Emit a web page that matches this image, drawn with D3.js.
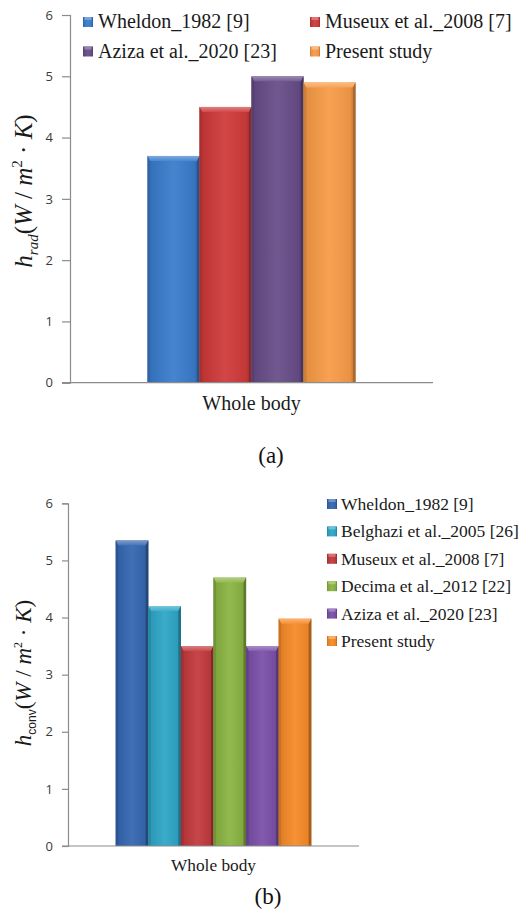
<!DOCTYPE html>
<html>
<head>
<meta charset="utf-8">
<script src="https://cdn.jsdelivr.net/npm/d3@7"></script>
<style>
  html, body { margin: 0; padding: 0; background: #ffffff; }
  svg { display: block; }
</style>
</head>
<body>
<svg id="fig" width="527" height="913"></svg>
<script>
// ---- data ----
const category = ["Whole body"];
const yTicks = [0, 1, 2, 3, 4, 5, 6];

// panel (a): radiative heat transfer coefficient
const seriesRad = ["Wheldon_1982 [9]", "Museux et al._2008 [7]", "Aziza et al._2020 [23]", "Present study"];
const valuesRad = [3.7, 4.5, 5.0, 4.9];
const colorsRad = ["#3a7ccc", "#cf3a3b", "#684e89", "#f89b47"];

// panel (b): convective heat transfer coefficient
const seriesConv = ["Wheldon_1982 [9]", "Belghazi et al._2005 [26]", "Museux et al._2008 [7]",
                    "Decima et al._2012 [22]", "Aziza et al._2020 [23]", "Present study"];
const valuesConv = [5.35, 4.2, 3.5, 4.7, 3.5, 3.98];
const colorsConv = ["#3567b1", "#2fa6c7", "#c23a3d", "#8ab443", "#7a50a9", "#f68a28"];

const W = 527;
const svg = d3.select("#fig");
const defs = svg.append("defs");
let gradId = 0;

function shade(c, k) {
  return k >= 0 ? d3.interpolateRgb(c, "#ffffff")(k) : d3.interpolateRgb(c, "#000000")(-k);
}

function hGradient(color) {
  const id = "g" + (gradId++);
  const g = defs.append("linearGradient").attr("id", id).attr("x1", 0).attr("x2", 1).attr("y1", 0).attr("y2", 0);
  [[0, shade(color, -0.25)], [0.08, shade(color, -0.08)], [0.5, shade(color, 0.06)],
   [0.9, shade(color, -0.06)], [1, shade(color, -0.3)]]
    .forEach(([o, c]) => g.append("stop").attr("offset", o).attr("stop-color", c));
  return id;
}

function vGradient(color) {
  const id = "g" + (gradId++);
  const g = defs.append("linearGradient").attr("id", id).attr("x1", 0).attr("x2", 0).attr("y1", 0).attr("y2", 1);
  [[0, shade(color, 0.35)], [1, shade(color, 0.08)]]
    .forEach(([o, c]) => g.append("stop").attr("offset", o).attr("stop-color", c));
  return id;
}

function drawPanel(cfg) {
  const g = svg.append("g");
  const y = d3.scaleLinear().domain([0, 6]).range([cfg.yBase, cfg.yTop]);
  const x0 = d3.scaleBand().domain(category).range([cfg.xLeft, cfg.xRight]).paddingInner(0).paddingOuter(cfg.outerPad);
  const x1 = d3.scaleBand().domain(cfg.series).range([0, x0.bandwidth()]).padding(0);

  // bars with bevelled top and shaded sides
  const bars = g.selectAll("g.bar")
    .data(cfg.series.map((s, i) => ({ s, v: cfg.values[i], c: cfg.colors[i] })))
    .join("g").attr("class", "bar");

  bars.each(function (d) {
    const b = d3.select(this);
    const bx = x0(category[0]) + x1(d.s);
    const bw = x1.bandwidth();
    const top = y(d.v), base = y(0);
    const bev = cfg.bevel, side = 2.5;
    b.append("rect").attr("x", bx).attr("y", top).attr("width", bw).attr("height", base - top)
      .attr("fill", `url(#${hGradient(d.c)})`);
    // top bevel
    b.append("path")
      .attr("d", `M${bx},${top}L${bx + bw},${top}L${bx + bw - side},${top + bev}L${bx + side},${top + bev}Z`)
      .attr("fill", `url(#${vGradient(d.c)})`);
    // side bevels
    b.append("path")
      .attr("d", `M${bx},${top}L${bx + side},${top + bev}L${bx + side},${base}L${bx},${base}Z`)
      .attr("fill", shade(d.c, -0.18));
    b.append("path")
      .attr("d", `M${bx + bw},${top}L${bx + bw - side},${top + bev}L${bx + bw - side},${base}L${bx + bw},${base}Z`)
      .attr("fill", shade(d.c, -0.32));
  });

  // y axis
  const yAxis = d3.axisLeft(y).tickValues(yTicks).tickSize(cfg.tickLen).tickPadding(9).tickFormat(d3.format("d"));
  const ya = g.append("g").attr("transform", `translate(${cfg.xLeft},0)`).call(yAxis);
  ya.select(".domain").attr("stroke", "#8c8c8c").attr("stroke-width", 1.2);
  ya.selectAll(".tick line").attr("stroke", "#8c8c8c").attr("stroke-width", 1.2);
  ya.selectAll(".tick text").attr("font-family", "'Open Sans', sans-serif").attr("font-size", cfg.tickFont)
    .attr("fill", "#3a3a3a");

  // x baseline
  g.append("line").attr("x1", cfg.xLeft - cfg.tickLen).attr("x2", cfg.xRight)
    .attr("y1", y(0)).attr("y2", y(0)).attr("stroke", "#8c8c8c").attr("stroke-width", 1.2);

  // category label
  g.append("text").attr("x", x0(category[0]) + x0.bandwidth() / 2).attr("y", cfg.catY)
    .attr("text-anchor", "middle").attr("font-family", "'Liberation Serif', serif")
    .attr("font-size", cfg.catFont).attr("fill", "#1a1a1a").text(category[0]);

  // y axis title
  const t = g.append("text").attr("transform", `translate(${cfg.titleX},${cfg.titleY}) rotate(-90)`)
    .attr("text-anchor", "middle").attr("font-family", "'Liberation Serif', serif")
    .attr("font-size", cfg.titleFont).attr("fill", "#1a1a1a");
  t.append("tspan").attr("font-style", "italic").text("h");
  t.append("tspan").attr("font-style", cfg.subItalic ? "italic" : "normal")
    .attr("font-family", cfg.subFamily).attr("font-size", cfg.subFont).attr("dy", cfg.subDy).text(cfg.sub);
  t.append("tspan").attr("dy", -cfg.subDy).text("(");
  t.append("tspan").attr("font-style", "italic").text("W");
  t.append("tspan").text(" / ");
  t.append("tspan").attr("font-style", "italic").text("m");
  t.append("tspan").attr("font-size", cfg.subFont).attr("dy", -cfg.supDy).text("2");
  t.append("tspan").attr("dy", cfg.supDy).text(" \u00B7 ");
  t.append("tspan").attr("font-style", "italic").text("K");
  t.append("tspan").text(")");

  // legend
  const lg = g.append("g");
  cfg.series.forEach((s, i) => {
    const col = i % cfg.legCols, row = Math.floor(i / cfg.legCols);
    const lx = cfg.legX[col], ly = cfg.legY0 + row * cfg.legDy;
    lg.append("rect").attr("x", lx).attr("y", ly - cfg.legSym - 1).attr("width", cfg.legSym).attr("height", cfg.legSym)
      .attr("fill", `url(#${hGradient(cfg.colors[i])})`);
    lg.append("rect").attr("x", lx + 1.5).attr("y", ly - cfg.legSym - 1).attr("width", cfg.legSym - 3).attr("height", 3)
      .attr("fill", shade(cfg.colors[i], 0.3));
    const tx = lx + cfg.legSym + cfg.legGap;
    const txt = lg.append("text").attr("x", tx).attr("y", ly)
      .attr("font-family", "'Liberation Serif', serif").attr("font-size", cfg.legFont)
      .attr("fill", "#1a1a1a").text(s);
    // squeeze entries that would run past the right edge
    const room = W - 5 - tx;
    if (txt.node().getComputedTextLength() > room) {
      txt.attr("textLength", room).attr("lengthAdjust", "spacingAndGlyphs");
    }
  });

  // panel tag
  g.append("text").attr("x", cfg.tagX).attr("y", cfg.tagY).attr("text-anchor", "middle")
    .attr("font-family", "'Liberation Serif', serif").attr("font-size", 23).attr("fill", "#111")
    .text(cfg.tag);
}

drawPanel({
  series: seriesRad, values: valuesRad, colors: colorsRad,
  xLeft: 70, xRight: 433, yTop: 15, yBase: 382.7, outerPad: 0.3726,
  bevel: 5, tickLen: 8, tickFont: 13,
  catY: 410, catFont: 20,
  titleX: 32, titleY: 191, titleFont: 25, sub: "rad", subFont: 15, subDy: 6, supDy: 10,
  subItalic: true, subFamily: "'Liberation Serif', serif",
  legCols: 2, legX: [83, 310], legY0: 28, legDy: 29.5, legSym: 10, legGap: 5, legFont: 20,
  tag: "(a)", tagX: 271, tagY: 463
});

drawPanel({
  series: seriesConv, values: valuesConv, colors: colorsConv,
  xLeft: 68, xRight: 359, yTop: 503.3, yBase: 846, outerPad: 0.244,
  bevel: 5, tickLen: 6, tickFont: 13,
  catY: 871, catFont: 17.3,
  titleX: 31, titleY: 673, titleFont: 23, sub: "conv", subFont: 12, subDy: 5, supDy: 9,
  subItalic: false, subFamily: "'Liberation Sans', sans-serif",
  legCols: 1, legX: [327], legY0: 510, legDy: 27.4, legSym: 10, legGap: 4, legFont: 17.5,
  tag: "(b)", tagX: 268, tagY: 904
});
</script>
</body>
</html>
